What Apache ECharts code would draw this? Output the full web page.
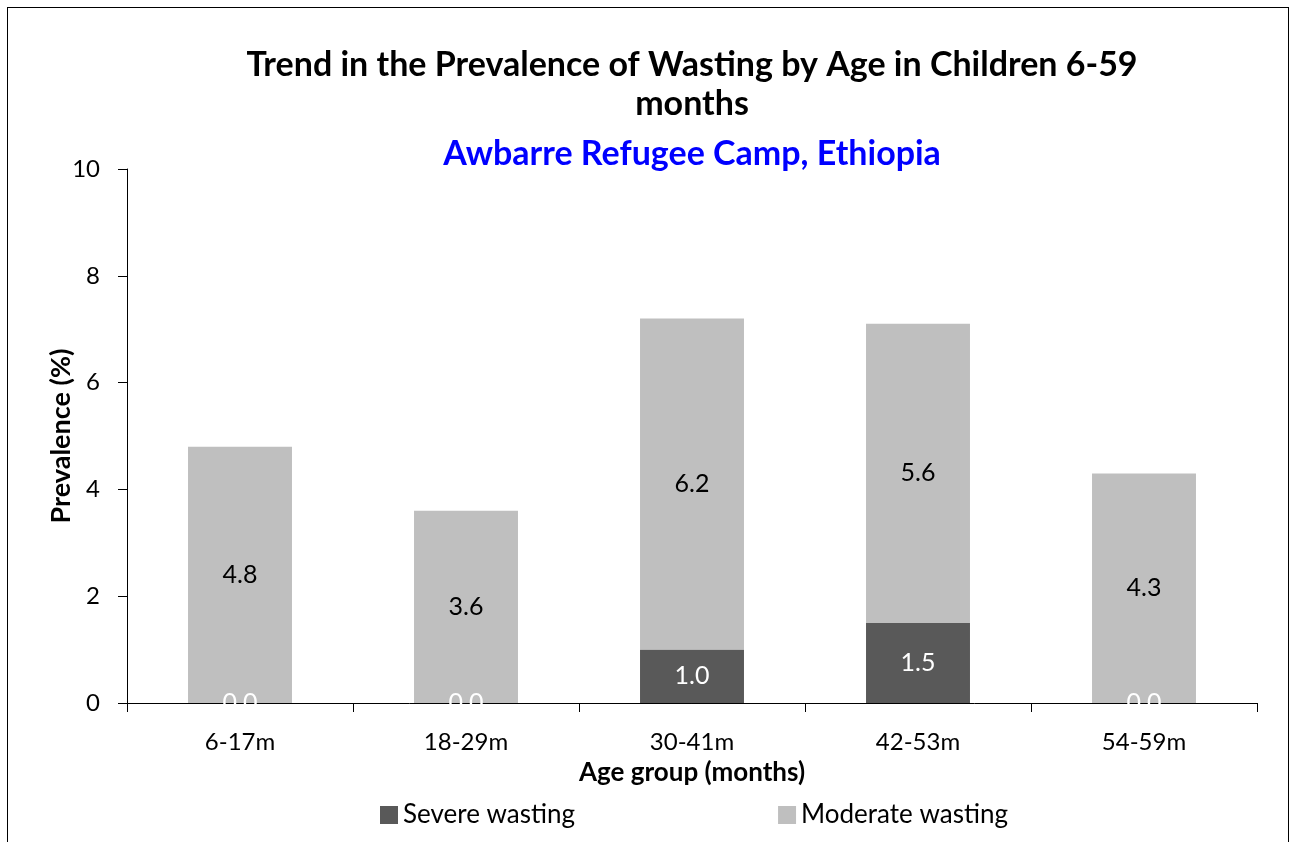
<!DOCTYPE html>
<html><head><meta charset="utf-8">
<script src="https://cdn.jsdelivr.net/npm/echarts@6/dist/echarts.min.js"></script>
<style>
html,body{margin:0;padding:0;background:#fff;}
#frame{position:absolute;left:7px;top:7px;width:1282px;height:900px;border:1px solid #000;box-sizing:border-box;}
#chart{position:absolute;left:0;top:0;width:1296px;height:842px;}
</style></head>
<body>
<div id="frame"></div>
<div id="chart"></div>
<script>
const categories = ['6-17m','18-29m','30-41m','42-53m','54-59m'];
const severe = [0.0, 0.0, 1.0, 1.5, 0.0];
const moderate = [4.8, 3.6, 6.2, 5.6, 4.3];
const yTicks = [0, 2, 4, 6, 8, 10];
const titleLine1 = 'Trend in the Prevalence of Wasting by Age in Children 6-59';
const titleLine2 = 'months';
const subtitle = 'Awbarre Refugee Camp, Ethiopia';

const FONT = 'Lato';
const chart = echarts.init(document.getElementById('chart'), null, {renderer:'canvas'});
chart.setOption({
  animation: false,
  textStyle: {fontFamily: FONT},
  graphic: [
    {type: 'text', x: 692, y: 65, style: {text: titleLine1, align: 'center', verticalAlign: 'middle',
      font: 'bold 34px Lato', fill: '#000'}},
    {type: 'text', x: 692, y: 104, style: {text: titleLine2, align: 'center', verticalAlign: 'middle',
      font: 'bold 34px Lato', fill: '#000'}},
    {type: 'text', x: 692, y: 154, style: {text: subtitle, align: 'center', verticalAlign: 'middle',
      font: 'bold 34px Lato', fill: '#0000FF'}}
  ],
  legend: {
    top: 802, left: 380, padding: 0, itemGap: 203, itemWidth: 18, itemHeight: 18,
    icon: 'rect',
    textStyle: {fontFamily: FONT, fontSize: 26, color: '#000'},
    data: ['Severe wasting', 'Moderate wasting']
  },
  grid: {left: 127, right: 39, top: 169, bottom: 139, containLabel: false},
  xAxis: {
    type: 'category', data: categories,
    name: 'Age group (months)', nameLocation: 'middle', nameGap: 57, nameMoveOverlap: false,
    nameTextStyle: {fontFamily: FONT, fontSize: 26, fontWeight: 'bold', color: '#000'},
    axisLine: {lineStyle: {color: '#000', width: 1}},
    axisTick: {show: true, length: 9, lineStyle: {color: '#000'}},
    axisLabel: {fontFamily: FONT, fontSize: 24, color: '#000', margin: 27}
  },
  yAxis: {
    type: 'value', min: 0, max: 10, interval: 2,
    name: 'Prevalence (%)', nameLocation: 'middle', nameGap: 52, nameRotate: 90, nameMoveOverlap: false,
    nameTextStyle: {fontFamily: FONT, fontSize: 27, fontWeight: 'bold', color: '#000'},
    axisLine: {show: true, lineStyle: {color: '#000', width: 1}},
    axisTick: {show: true, length: 9, lineStyle: {color: '#000'}},
    splitLine: {show: false},
    axisLabel: {fontFamily: FONT, fontSize: 24, color: '#000', margin: 27,
      formatter: v => yTicks.includes(v) ? String(v) : ''}
  },
  series: [
    {name: 'Severe wasting', type: 'bar', stack: 'w', data: severe, barWidth: '46%',
     itemStyle: {color: '#595959'},
     label: {show: true, position: 'inside', color: '#fff', fontFamily: FONT, fontSize: 25,
       formatter: p => p.value.toFixed(1)}},
    {name: 'Moderate wasting', type: 'bar', stack: 'w', data: moderate, barWidth: '46%',
     itemStyle: {color: '#BFBFBF'},
     label: {show: true, position: 'inside', color: '#000', fontFamily: FONT, fontSize: 25,
       formatter: p => p.value.toFixed(1)}}
  ]
});
</script>
</body></html>
